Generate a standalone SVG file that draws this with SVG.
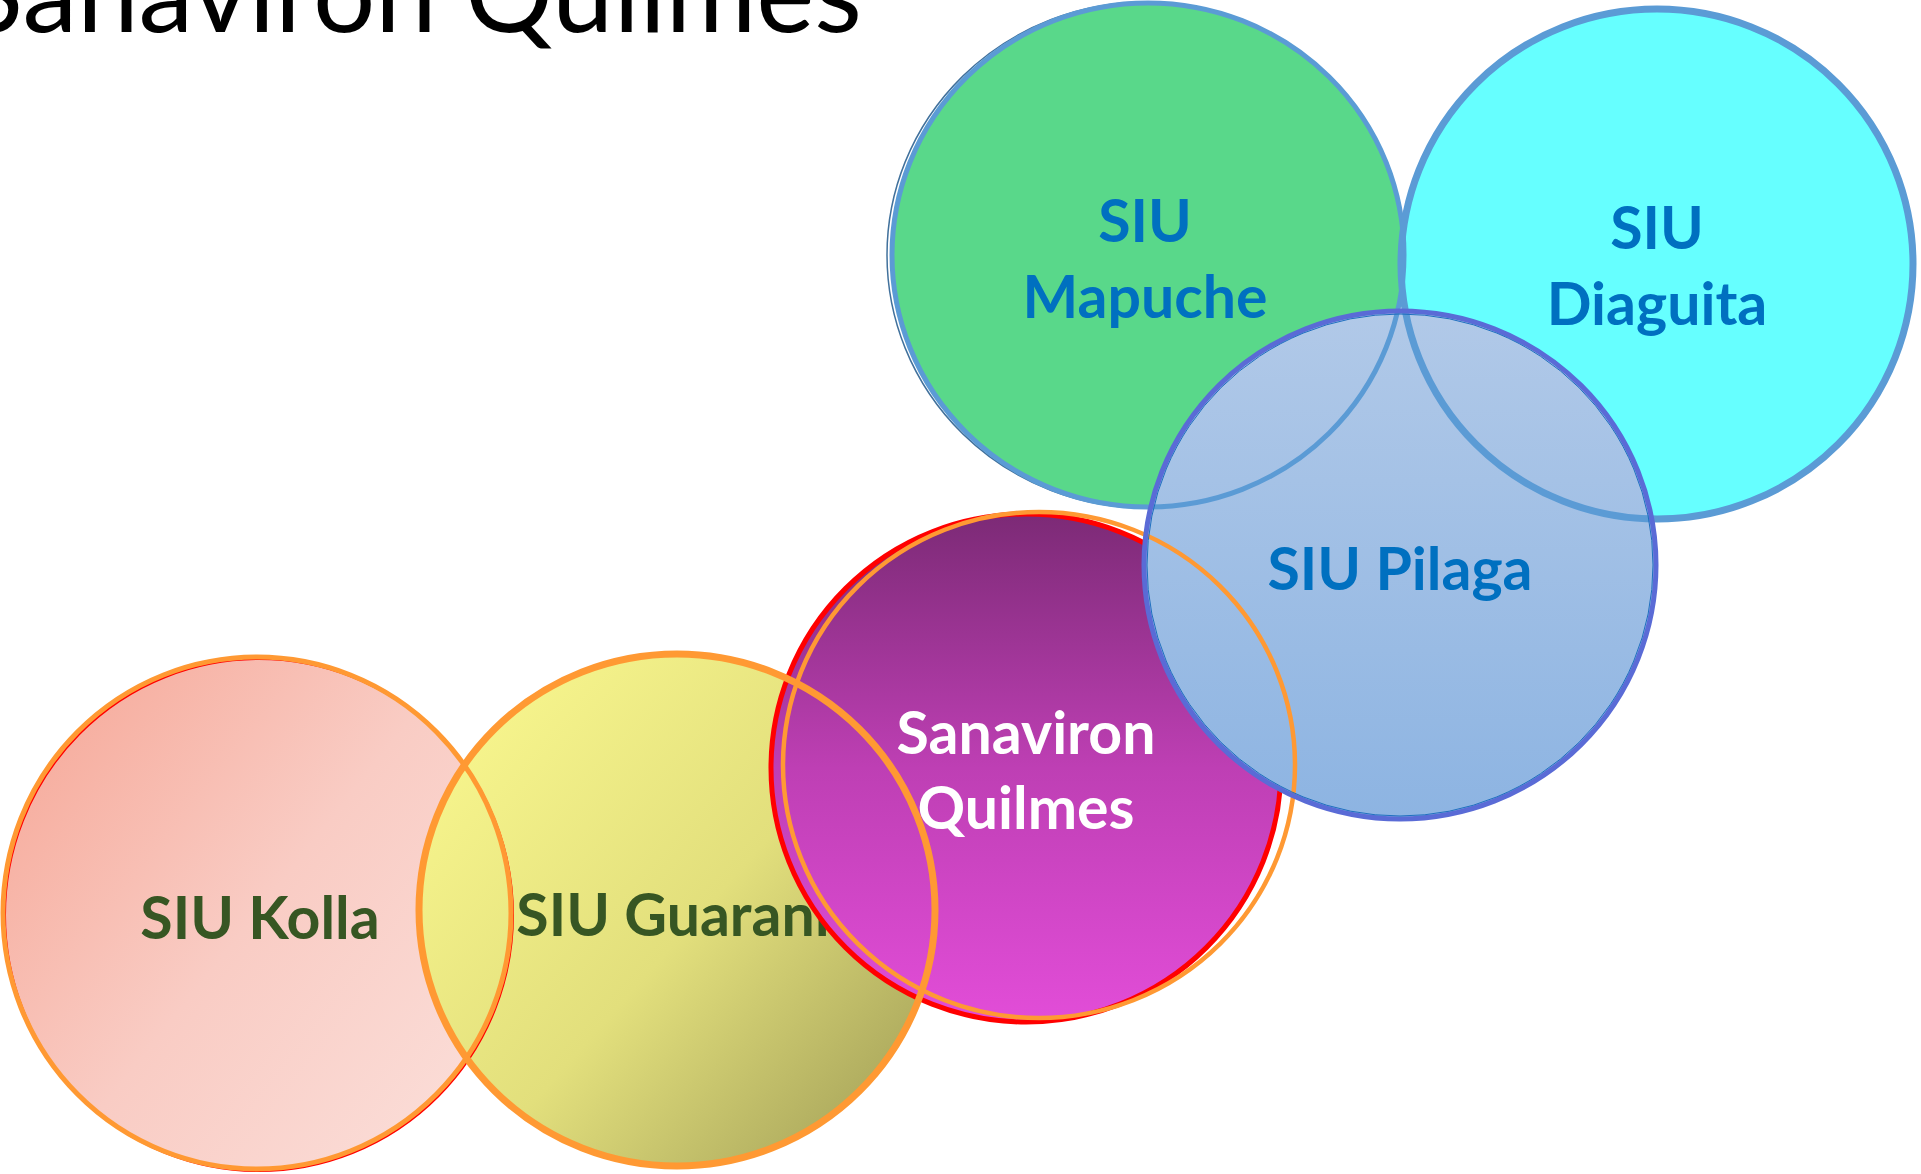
<svg xmlns="http://www.w3.org/2000/svg" width="1921" height="1174" viewBox="0 0 1921 1174">
<defs>
<linearGradient id="gKolla" x1="0" y1="0.1" x2="1" y2="0.9">
<stop offset="0" stop-color="#F6A898"/>
<stop offset="0.5" stop-color="#F9CCC4"/>
<stop offset="1" stop-color="#FBDFDA"/>
</linearGradient>
<linearGradient id="gGuarani" x1="0.15" y1="0.1" x2="1" y2="0.85">
<stop offset="0" stop-color="#F6F48C"/>
<stop offset="0.5" stop-color="#E2DF7C"/>
<stop offset="1" stop-color="#A6A35A"/>
</linearGradient>
<linearGradient id="gSana" x1="0" y1="0" x2="0" y2="1">
<stop offset="0" stop-color="#7C2A76"/>
<stop offset="0.5" stop-color="#BE3FB4"/>
<stop offset="1" stop-color="#E24DD8"/>
</linearGradient>
<linearGradient id="gPilaga" x1="0" y1="0" x2="0" y2="1">
<stop offset="0" stop-color="#B1C9E8"/>
<stop offset="1" stop-color="#8DB4E2"/>
</linearGradient>
</defs>
<style>
.lbl{font-family:Lato,"Open Sans","Liberation Sans",sans-serif;font-weight:bold;font-size:59px;text-anchor:middle}
.blue{fill:#0070C0}
.green{fill:#375623}
.white{fill:#FFFFFF}
.ring{fill:none}
.or{stroke:#FF9933}
.bl{stroke:#5B9BD5}
</style>
<rect width="1921" height="1174" fill="#FFFFFF"/>
<text x="862" y="32" font-family="Lato,'Open Sans','Liberation Sans',sans-serif" font-weight="normal" font-size="110" text-anchor="end" fill="#000000">Sanaviron Quilmes</text>

<g id="node-kolla">
<ellipse cx="257" cy="913" rx="254" ry="256" fill="url(#gKolla)"/>
<text class="lbl green" x="260" y="939">SIU Kolla</text>
</g>
<g id="node-guarani">
<ellipse cx="677" cy="910" rx="258" ry="256" fill="url(#gGuarani)"/>
<text class="lbl green" x="673" y="936">SIU Guarani</text>
</g>
<g id="node-mapuche">
<ellipse cx="1148" cy="255" rx="256" ry="252" fill="#59D88A"/>
<text class="lbl blue" x="1145" y="242">SIU</text>
<text class="lbl blue" x="1145" y="318">Mapuche</text>
</g>
<g id="node-diaguita">
<ellipse cx="1657" cy="264" rx="256" ry="255" fill="#66FFFF"/>
<text class="lbl blue" x="1657" y="249">SIU</text>
<text class="lbl blue" x="1657" y="325">Diaguita</text>
</g>
<g id="node-sanaviron">
<ellipse cx="1026" cy="768" rx="255" ry="254" fill="url(#gSana)" stroke="#FF0000" stroke-width="5"/>
<text class="lbl white" x="1026" y="754">Sanaviron</text>
<text class="lbl white" x="1026" y="829">Quilmes</text>
</g>
<g id="node-pilaga">
<ellipse cx="1400" cy="565" rx="256" ry="254" fill="url(#gPilaga)"/>
<text class="lbl blue" x="1400" y="590">SIU Pilaga</text>
</g>
<g id="outlines">
<ellipse class="ring" cx="259" cy="915" rx="254" ry="256" stroke="#FF0000" stroke-width="2"/>
<ellipse class="ring or" cx="257" cy="913" rx="254" ry="256" stroke-width="5"/>
<ellipse class="ring or" cx="677" cy="910" rx="258" ry="256" stroke-width="7"/>
<ellipse class="ring or" cx="1039" cy="765" rx="256" ry="253" stroke-width="4.5"/>
<ellipse class="ring" cx="1146" cy="255" rx="259" ry="253" stroke="#41719C" stroke-width="1.5"/>
<ellipse class="ring bl" cx="1148" cy="255" rx="256" ry="252" stroke-width="5"/>
<ellipse class="ring bl" cx="1657" cy="264" rx="256" ry="255" stroke-width="7"/>
<ellipse class="ring" cx="1400" cy="565" rx="256" ry="254" stroke="#5A6BD6" stroke-width="5"/>
<ellipse class="ring" cx="1400" cy="565" rx="253" ry="251" stroke="#1F6FC0" stroke-width="1"/>
</g>
</svg>
